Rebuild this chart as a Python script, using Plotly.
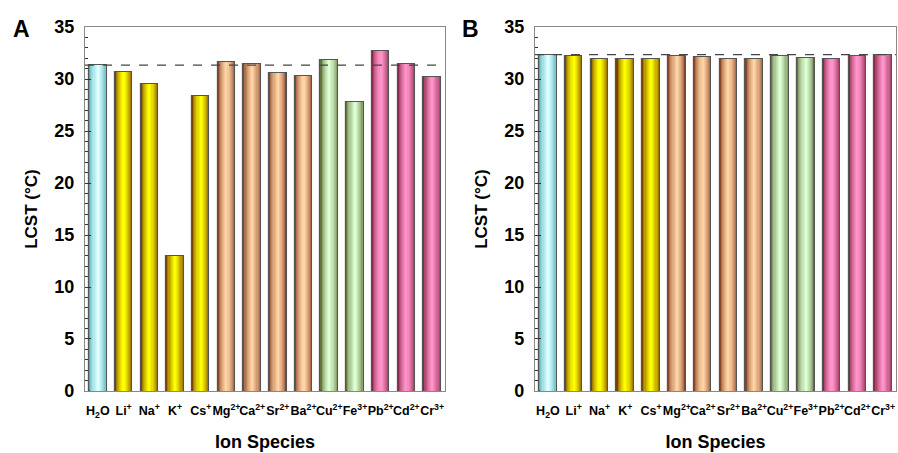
import plotly.graph_objects as go

ions = ["H<sub>2</sub>O", "Li<sup>+</sup>", "Na<sup>+</sup>", "K<sup>+</sup>", "Cs<sup>+</sup>",
        "Mg<sup>2+</sup>", "Ca<sup>2+</sup>", "Sr<sup>2+</sup>", "Ba<sup>2+</sup>", "Cu<sup>2+</sup>",
        "Fe<sup>3+</sup>", "Pb<sup>2+</sup>", "Cd<sup>2+</sup>", "Cr<sup>3+</sup>"]
groups = ["water", "mono", "mono", "mono", "mono", "alk", "alk", "alk", "alk",
          "green", "green", "pink", "pink", "pink"]
lcst_a = [31.3, 30.7, 29.5, 13.0, 28.4, 31.6, 31.4, 30.6, 30.3, 31.8, 27.8, 32.7, 31.4, 30.2]
lcst_b = [32.3, 32.2, 31.9, 31.9, 31.9, 32.2, 32.1, 31.9, 31.9, 32.2, 32.0, 31.9, 32.2, 32.3]
ref_a = 31.35
ref_b = 32.35
yticks = [0, 5, 10, 15, 20, 25, 30, 35]

palette = {
    "water": ("#4fb0bb", "#dcffff"),
    "mono": ("#7a4300", "#ffff00"),
    "alk": ("#8a4426", "#ffd3a4"),
    "green": ("#66763a", "#dcffd4"),
    "pink": ("#8a2546", "#ff94ca"),
}


def lerp(c1, c2, t):
    a = [int(c1[i:i + 2], 16) for i in (1, 3, 5)]
    b = [int(c2[i:i + 2], 16) for i in (1, 3, 5)]
    return "#%02x%02x%02x" % tuple(round(a[j] + (b[j] - a[j]) * t) for j in range(3))


N = 8
widths = [0.68 - k * 0.085 for k in range(N)]

fig = go.Figure()
x_idx = list(range(len(ions)))

for panel, vals in (("", lcst_a), ("2", lcst_b)):
    for k in range(N):
        t = (k / (N - 1)) ** 0.6
        cols = [lerp(palette[g][0], palette[g][1], t) for g in groups]
        fig.add_trace(go.Bar(
            x=x_idx, y=vals, width=widths[k],
            marker=dict(color=cols,
                        line=dict(color="#555555", width=1.2 if k == 0 else 0)),
            xaxis="x" + panel, yaxis="y" + panel, showlegend=False, hoverinfo="skip"))

axis_common_y = dict(range=[0, 35], tickvals=yticks, ticks="inside", ticklen=6, tickwidth=1.2,
                     tickcolor="#333", showline=True, linecolor="#888", linewidth=1.2, mirror=True,
                     showgrid=False, zeroline=False, automargin=False, ticklabelstandoff=6,
                     minor=dict(dtick=1, ticks="inside", ticklen=3, tickcolor="#333", showgrid=False),
                     tickfont=dict(family="Liberation Sans", size=18, color="black", weight="bold"),
                     title=dict(text="<b>LCST (°C)</b>", font=dict(family="Liberation Sans", size=17, color="black"),
                                standoff=12))
axis_common_x = dict(range=[-0.5, 13.5], tickvals=x_idx, ticktext=["<b>%s</b>" % s for s in ions],
                     ticks="", showline=True, linecolor="#888", linewidth=1.2, mirror=True,
                     showgrid=False, zeroline=False, tickangle=0, automargin=False, ticklabelstandoff=8,
                     tickfont=dict(family="Liberation Sans", size=12.5, color="black"),
                     title=dict(text="<b>Ion Species</b>", font=dict(family="Liberation Sans", size=18, color="black"),
                                standoff=16))

fig.update_layout(
    width=898, height=453, margin=dict(l=0, r=0, t=0, b=0, autoexpand=False),
    paper_bgcolor="white", plot_bgcolor="white", barmode="overlay", bargap=0,
    xaxis=dict(domain=[0.0947, 0.4955], anchor="y", **axis_common_x),
    yaxis=dict(domain=[0.137, 0.940], anchor="x", **axis_common_y),
    xaxis2=dict(domain=[0.5958, 0.9978], anchor="y2", **axis_common_x),
    yaxis2=dict(domain=[0.137, 0.940], anchor="x2", **axis_common_y),
    shapes=[
        dict(type="line", xref="x domain", yref="y", x0=0, x1=1, y0=ref_a, y1=ref_a,
             line=dict(color="#444", width=1.2, dash="dash")),
        dict(type="line", xref="x2 domain", yref="y2", x0=0, x1=1, y0=ref_b, y1=ref_b,
             line=dict(color="#444", width=1.2, dash="dash")),
    ],
    annotations=[
        dict(text="<b>A</b>", xref="paper", yref="paper", x=21 / 898, y=1 - 14 / 453,
             xanchor="center", yanchor="top",
             showarrow=False, font=dict(family="Liberation Sans", size=23, color="black")),
        dict(text="<b>B</b>", xref="paper", yref="paper", x=470 / 898, y=1 - 14 / 453,
             xanchor="center", yanchor="top",
             showarrow=False, font=dict(family="Liberation Sans", size=23, color="black")),
    ],
)

fig.write_html("out.html")
